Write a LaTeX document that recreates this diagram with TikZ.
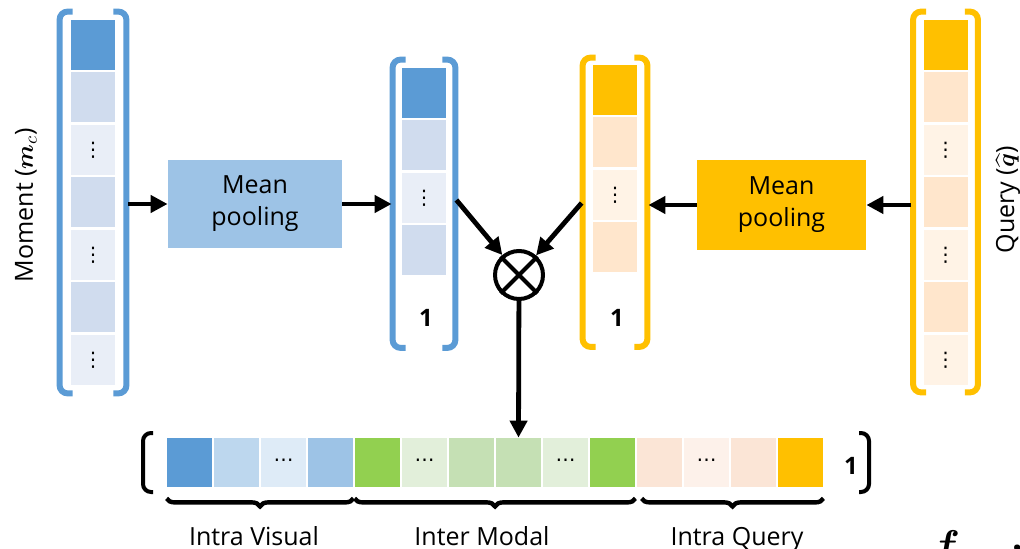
\documentclass[tikz,border=0pt]{standalone}
\usepackage{amsmath, amssymb}
\usepackage{fontspec}
\setmainfont{Open Sans}
\newfontfamily\dotsfont{DejaVu Sans}
\usetikzlibrary{arrows.meta}
\usetikzlibrary{decorations.pathreplacing}
\usetikzlibrary{positioning}
\definecolor{vis-dark}{RGB}{91, 155, 213}
\definecolor{vis-mid}{RGB}{208, 220, 238}
\definecolor{vis-light}{RGB}{233, 238, 247}
\definecolor{vis-pool}{RGB}{157, 195, 230}
\definecolor{vis-a}{RGB}{189, 215, 238}
\definecolor{vis-b}{RGB}{222, 235, 247}
\definecolor{qry-dark}{RGB}{255, 192, 0}
\definecolor{qry-mid}{RGB}{255, 230, 204}
\definecolor{qry-light}{RGB}{255, 243, 230}
\definecolor{qry-a}{RGB}{251, 229, 214}
\definecolor{qry-b}{RGB}{253, 241, 234}
\definecolor{mod-dark}{RGB}{146, 208, 80}
\definecolor{mod-a}{RGB}{226, 239, 218}
\definecolor{mod-b}{RGB}{197, 224, 180}
\newcommand{\cellvdots}{{\dotsfont\fontsize{10}{10}\selectfont ⋮}}
\newcommand{\cellhdots}{{\dotsfont\fontsize{10}{10}\selectfont ⋯}}
\tikzset{
  cell/.style={minimum width=22pt, minimum height=25pt, inner sep=0pt},
  bcell/.style={minimum width=22.5pt, minimum height=24.5pt, inner sep=0pt},
  bra/.style={line width=3pt, rounded corners=4pt},
  arr/.style={line width=2.4pt, -{Triangle[length=8.5pt, width=8.5pt]}},
  pool/.style={minimum width=87pt, minimum height=44pt, inner sep=0pt, align=center,
    font=\fontsize{12.5}{16}\selectfont},
  lbl/.style={font=\fontsize{12.5}{15}\selectfont, anchor=base},
  one/.style={font=\fontsize{12}{14}\selectfont\bfseries},
  brc/.style={line width=2.2pt, decorate, decoration={brace, mirror, amplitude=4pt}},
  paren/.style={line width=2pt, rounded corners=4pt}
}
% #1 top cell, #2 bottom cell, #3 colour, #4 side gap, #5 top gap, #6 bottom gap
\newcommand{\colbrackets}[6]{%
  \draw[bra, draw=#3]
    ([xshift={6.5pt-#4}, yshift=#5]#1.north west) -- ([xshift=-#4, yshift=#5]#1.north west)
    -- ([xshift=-#4, yshift=-#6]#2.south west) -- ([xshift={6.5pt-#4}, yshift=-#6]#2.south west);
  \draw[bra, draw=#3]
    ([xshift={#4-6.5pt}, yshift=#5]#1.north east) -- ([xshift=#4, yshift=#5]#1.north east)
    -- ([xshift=#4, yshift=-#6]#2.south east) -- ([xshift={#4-6.5pt}, yshift=-#6]#2.south east);
}

\begin{document}
\begin{tikzpicture}[x=0.5pt, y=-0.5pt]
  \useasboundingbox (0, 0) rectangle (1020, 549);
  \clip (0, 0) rectangle (1020, 549);

  \node[pool, fill=vis-pool] (poolL) at (255, 204) {Mean\\pooling};
  \node[pool, fill=qry-dark, minimum width=84.5pt, minimum height=45pt] (poolR) at (781.5, 205) {Mean\\pooling};

  % moment features
  \foreach \c/\t [count=\i] in {vis-dark/{}, vis-mid/{}, vis-light/\cellvdots, vis-mid/{},
      vis-light/\cellvdots, vis-mid/{}, vis-light/\cellvdots}
    \node[cell, fill=\c] (m\i) at (93, {45+52.5*(\i-1)}) {\t};
  \colbrackets{m1}{m7}{vis-dark}{5.5pt}{4pt}{4pt}
  \coordinate (mR) at ([xshift=6.5pt]m4.east |- poolL.west);
  \node[lbl, anchor=center, rotate=90] (mlab) at (26, 205) {Moment ($\boldsymbol{m}_c$)};

  % query features
  \foreach \c/\t [count=\i] in {qry-dark/{}, qry-mid/{}, qry-light/\cellvdots, qry-mid/{},
      qry-light/\cellvdots, qry-mid/{}, qry-light/\cellvdots}
    \node[cell, fill=\c] (q\i) at (945.5, {45+52.5*(\i-1)}) {\t};
  \colbrackets{q1}{q7}{qry-dark}{5pt}{4pt}{3.5pt}
  \coordinate (qL) at ([xshift=-6pt]q4.west |- poolR.east);
  \node[lbl, anchor=center, rotate=90] (qlab) at (1008, 200) {Query ($\widehat{\boldsymbol{q}}$)};

  % pooled vectors
  \foreach \c/\t [count=\i] in {vis-dark/{}, vis-mid/{}, vis-light/\cellvdots, vis-mid/{}}
    \node[cell, fill=\c] (v\i) at (424, {93+52.5*(\i-1)}) {\t};
  \colbrackets{v1}{v4}{vis-dark}{4.5pt}{4pt}{36pt}
  \coordinate (vL) at ([xshift=-5pt]v3.west |- poolL.east);
  \coordinate (vR) at ([xshift=5pt, yshift=-1pt]v3.east);
  \node[one] (vone) at (426, 318) {1};

  \foreach \c/\t [count=\i] in {qry-dark/{}, qry-mid/{}, qry-light/\cellvdots, qry-mid/{}}
    \node[cell, fill=\c] (w\i) at (615, {90+52.5*(\i-1)}) {\t};
  \colbrackets{w1}{w4}{qry-dark}{5pt}{3.5pt}{37pt}
  \coordinate (wL) at ([xshift=-5.5pt, yshift=-4pt]w3.west);
  \coordinate (wR) at ([xshift=5.5pt]w3.east |- poolR.west);
  \node[one] (wone) at (617, 318) {1};

  \node[draw, circle, line width=2pt, minimum size=24pt, inner sep=0pt] (ot) at (519, 275) {};
  \draw[line width=2pt] (ot.45) -- (ot.225) (ot.135) -- (ot.315);

  % joint vector
  \foreach \c/\t [count=\i] in {vis-dark/{}, vis-a/{}, vis-b/\cellhdots, vis-pool/{},
      mod-dark/{}, mod-a/\cellhdots, mod-b/{}, mod-b/{}, mod-a/\cellhdots, mod-dark/{},
      qry-a/{}, qry-b/\cellhdots, qry-a/{}, qry-dark/{}}
    \node[bcell, fill=\c] (b\i) at ({189.5+47*(\i-1)}, 462.5) {\t};
  \draw[paren] (153, 433) -- (143, 433) -- (143, 492) -- (153, 492);
  \draw[paren] (859, 433) -- (869, 433) -- (869, 492) -- (859, 492);
  \node[one] (bone) at (851, 466) {1};

  \draw[brc] ([yshift=-5.5pt]b1.south west) -- ([yshift=-5.5pt]b4.south east);
  \draw[brc] ([yshift=-5.5pt]b5.south west) -- ([yshift=-5.5pt]b10.south east);
  \draw[brc] ([yshift=-5.5pt,xshift=2.5pt]b11.south west) -- ([yshift=-5.5pt]b14.south east);
  \node[lbl] (intrav) at (254, 545) {Intra Visual};
  \node[lbl] (inter) at (482, 545) {Inter Modal};
  \node[lbl] (intraq) at (737, 545) {Intra Query};

  \node[anchor=base] (fsym) at (946, 559) {\fontsize{22}{22}\selectfont$\boldsymbol{f}$};
  \node[anchor=base, inner sep=0pt] (fdot) at (1018, 550) {\fontsize{18}{18}\selectfont\bfseries .};

  \draw[arr] (mR) -- (poolL.west);
  \draw[arr] (poolL.east) -- (vL);
  \draw[arr] (qL) -- (poolR.east);
  \draw[arr] (poolR.west) -- (wR);
  \draw[arr] (vR) -- (ot);
  \draw[arr] (wL) -- (ot);
  \draw[arr] (ot) -- (b8.north);
\end{tikzpicture}
\end{document}
